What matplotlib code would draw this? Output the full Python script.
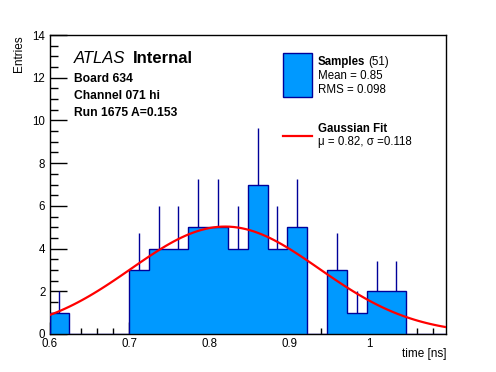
import numpy as np
import matplotlib
matplotlib.use("Agg")
import matplotlib.pyplot as plt
from matplotlib.ticker import MultipleLocator
from matplotlib.patches import Rectangle
from matplotlib.lines import Line2D

plt.rcParams['font.family'] = ['Liberation Sans', 'DejaVu Sans']

# ---- data ----
bin_lo = 0.6
bin_width = 0.02483
counts = [1, 0, 0, 0, 3, 4, 4, 5, 5, 4, 7, 4, 5, 0, 3, 1, 2, 2, 0, 0]
fit_mu = 0.82
fit_sigma = 0.118
fit_amp = 5.03
n_entries = 51
mean_txt = "0.85"
rms_txt = "0.098"
x_ticks = [0.6, 0.7, 0.8, 0.9, 1.0]
x_ticklabels = ["0.6", "0.7", "0.8", "0.9", "1"]
y_ticks = [0, 2, 4, 6, 8, 10, 12, 14]

counts = np.array(counts, dtype=float)
edges = bin_lo + bin_width * np.arange(len(counts) + 1)
centers = 0.5 * (edges[:-1] + edges[1:])

W, H = 496, 372
fig = plt.figure(figsize=(W / 100, H / 100), dpi=100)
ax = fig.add_axes([49.5 / W, 1 - 334 / H, (446 - 49.5) / W, (334 - 35) / H])

fill_c = '#0099ff'
edge_c = '#000099'

ax.stairs(counts, edges, fill=True, color=fill_c, zorder=2)
ax.stairs(counts, edges, fill=False, color=edge_c, lw=1.0, baseline=0, zorder=3)
nz = counts > 0
ax.vlines(centers[nz], counts[nz], counts[nz] + np.sqrt(counts[nz]),
          color=edge_c, lw=1.0, zorder=3)

xf = np.linspace(edges[0], edges[-1], 100)
yf = fit_amp * np.exp(-0.5 * ((xf - fit_mu) / fit_sigma) ** 2)
ax.plot(xf, yf, color='#ff0000', lw=1.6, zorder=4)

ax.set_xlim(edges[0], edges[-1])
ax.set_ylim(0, 14)
ax.set_xticks(x_ticks)
ax.set_xticklabels(x_ticklabels)
ax.set_yticks(y_ticks)
ax.xaxis.set_minor_locator(MultipleLocator(0.02))
ax.yaxis.set_minor_locator(MultipleLocator(0.5))
ax.tick_params(axis='both', which='both', direction='in', top=False, right=False,
               labelsize=8.3, width=1.0)
ax.tick_params(axis='x', which='major', length=9, pad=3)
ax.tick_params(axis='x', which='minor', length=4.5)
ax.tick_params(axis='y', which='major', length=12, pad=3)
ax.tick_params(axis='y', which='minor', length=6)
for s in ax.spines.values():
    s.set_linewidth(1.0)

fig.text(446 / W, 1 - 354 / H, "time [ns]", ha='right', va='center', fontsize=8.5)
fig.text(19 / W, 1 - 35 / H, "Entries", ha='center', va='top', rotation=90, fontsize=8.5)

# ATLAS label
fig.text(74 / W, 1 - 63.3 / H, "ATLAS", style='italic', fontsize=12, ha='left', va='baseline')
fig.text(133 / W, 1 - 63.3 / H, "Internal", weight='bold', fontsize=12, ha='left', va='baseline')
fig.text(74 / W, 1 - 81.7 / H, "Board 634", weight='bold', fontsize=8.7, ha='left', va='baseline')
fig.text(74 / W, 1 - 99 / H, "Channel 071 hi", weight='bold', fontsize=8.7, ha='left', va='baseline')
fig.text(74 / W, 1 - 115.7 / H, "Run 1675 A=0.153", weight='bold', fontsize=8.7, ha='left', va='baseline')

# legend
fig.add_artist(Rectangle((283.3 / W, 1 - 96.7 / H), 28.4 / W, 43.4 / H,
                         transform=fig.transFigure, facecolor=fill_c,
                         edgecolor=edge_c, lw=1.0))
fig.add_artist(Line2D([283.3 / W, 311.7 / W], [1 - 135.7 / H, 1 - 135.7 / H],
                      transform=fig.transFigure, color='#ff0000', lw=1.6))
t = fig.text(317.7 / W, 1 - 61.7 / H, "Samples", weight='bold', fontsize=8.3, ha='left', va='center')
fig.canvas.draw()
bb = t.get_window_extent()
fig.text((bb.x1 + 3.5) / W, 1 - 61.7 / H, f"({n_entries})", fontsize=8.3, ha='left', va='center')
fig.text(317.7 / W, 1 - 76 / H, f"Mean = {mean_txt}", fontsize=8.3, ha='left', va='center')
fig.text(317.7 / W, 1 - 90 / H, f"RMS = {rms_txt}", fontsize=8.3, ha='left', va='center')
fig.text(317.7 / W, 1 - 129.3 / H, "Gaussian Fit", weight='bold', fontsize=8.3, ha='left', va='center')
fig.text(317.7 / W, 1 - 141.7 / H, f"\u03bc = {fit_mu:.2f}, \u03c3 ={fit_sigma:.3f}",
         fontsize=8.3, ha='left', va='center')

fig.savefig("out.png", dpi=100)
